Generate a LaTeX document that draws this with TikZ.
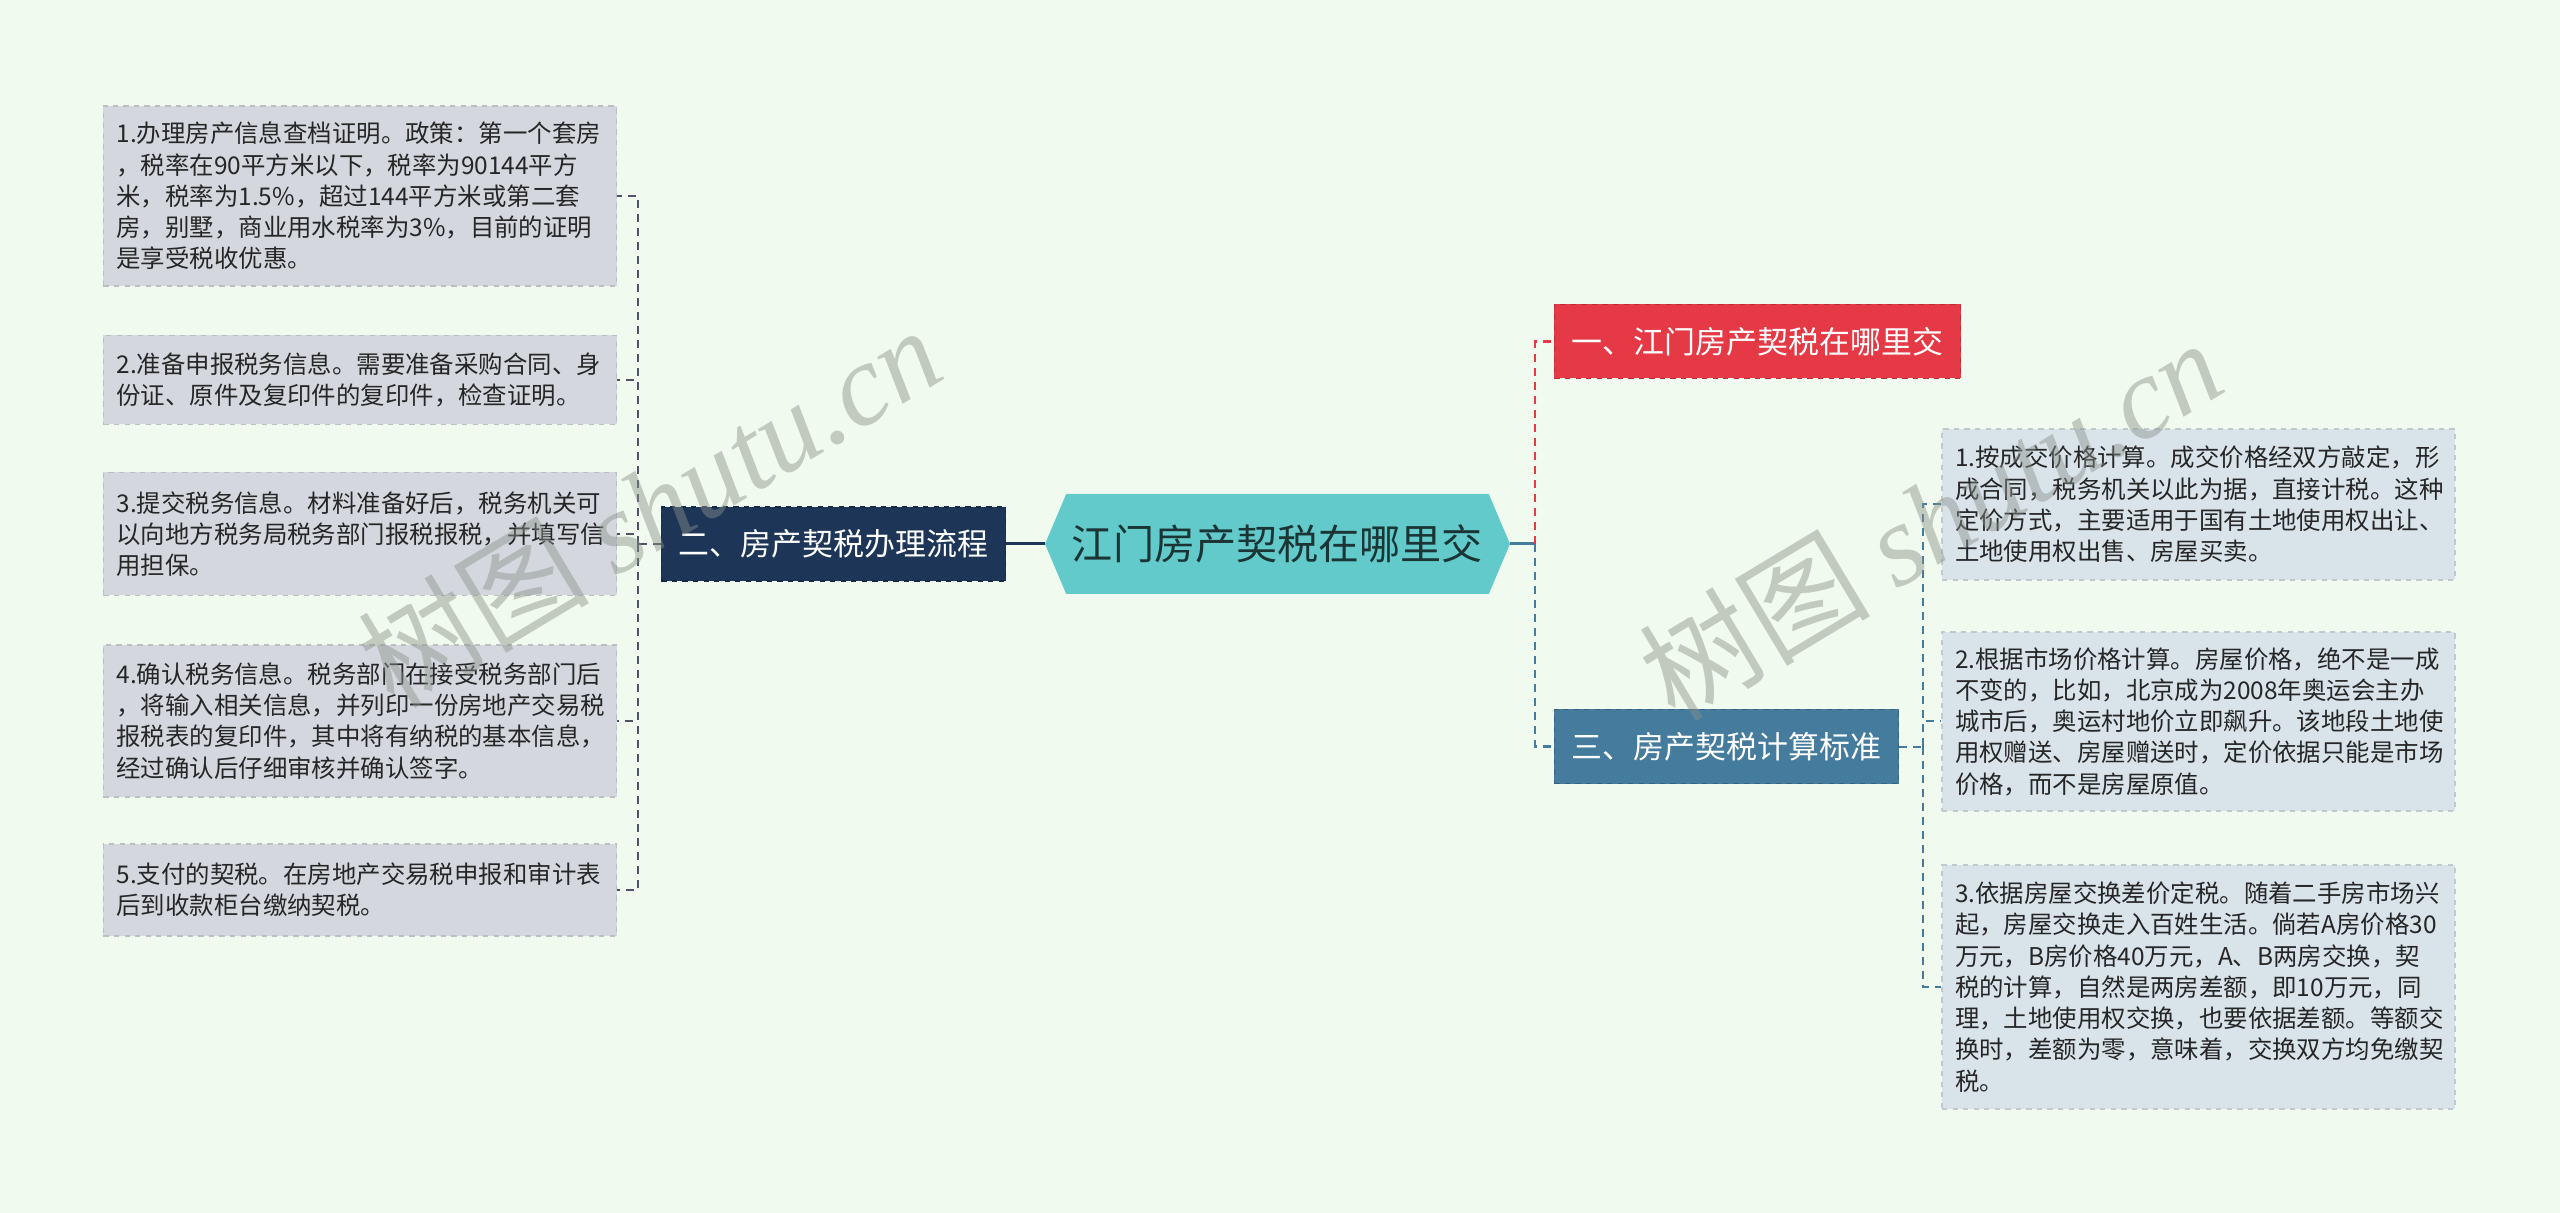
\documentclass[tikz,border=0pt]{standalone}
\usepackage{fontspec}
\setmainfont{Noto Sans CJK SC}
\newfontfamily\wmlatin{Liberation Serif}
\usetikzlibrary{shapes.symbols}

\definecolor{bgmint}{HTML}{F1FAEE}
\definecolor{hubteal}{HTML}{62CACB}
\definecolor{hubtext}{HTML}{1B3535}
\definecolor{navyb}{HTML}{1D3557}
\definecolor{redb}{HTML}{E63946}
\definecolor{steelb}{HTML}{457B9D}
\definecolor{leafgray}{HTML}{D4D8DE}
\definecolor{leafblue}{HTML}{D9E4EA}
\definecolor{linkgray}{HTML}{4A5566}
\definecolor{wmgray}{HTML}{8A908A}

\newcommand\leaffont{\fontsize{13.9pt}{17.8pt}\selectfont}
\newcommand\branchfont{\fontsize{17.6pt}{20pt}\selectfont}
\newcommand\hubfont{\fontsize{23.4pt}{26pt}\selectfont}

\tikzset{
  leaf/.style={rectangle, fill=#1, draw=#1!88!black, dashed, line width=0.25mm,
    text=black!85, font=\leaffont, text width=97.4mm, inner xsep=2.6mm,
    inner ysep=0pt, align=left},
  branch/.style={rectangle, fill=#1, draw=#1!80!black, dashed, line width=0.25mm,
    text=white, font=\branchfont, inner xsep=3.5mm, inner ysep=0pt,
    minimum height=14.8mm},
  hub/.style={signal, signal to=west and east, signal pointer angle=134,
    fill=hubteal, text=hubtext, font=\hubfont, minimum height=20mm,
    minimum width=93mm, inner xsep=0pt},
  link/.style={draw=#1, line width=0.4mm, dash pattern=on 1.6mm off 1.2mm},
  wm/.style={text=wmgray, opacity=0.45, rotate=31, font=\fontsize{66pt}{70pt}\selectfont}
}

\begin{document}
\begin{tikzpicture}[x=0.2mm, y=-0.2mm]
  \useasboundingbox (0,0) rectangle (2560,1213);
  \fill[bgmint] (0,0) rectangle (2560,1213);

  % centre and main branches
  \node[hub] (hub) at (1277.5,544) {江门房产契税在哪里交};
  \node[branch=navyb] (b2) at (833.5,544) {二、房产契税办理流程};
  \node[branch=redb] (b1) at (1757.5,341.5) {一、江门房产契税在哪里交};
  \node[branch=steelb] (b3) at (1726.5,746.5) {三、房产契税计算标准};

  % left leaves
  \node[leaf=leafgray, minimum height=36mm] (l1) at (360,196) {1.办理房产信息查档证明。政策：第一个套房\\，税率在90平方米以下，税率为90144平方\\米，税率为1.5\%，超过144平方米或第二套\\房，别墅，商业用水税率为3\%，目前的证明\\是享受税收优惠。};
  \node[leaf=leafgray, minimum height=17.8mm] (l2) at (360,380) {2.准备申报税务信息。需要准备采购合同、身\\份证、原件及复印件的复印件，检查证明。};
  \node[leaf=leafgray, minimum height=24.6mm] (l3) at (360,534) {3.提交税务信息。材料准备好后，税务机关可\\以向地方税务局税务部门报税报税，并填写信\\用担保。};
  \node[leaf=leafgray, minimum height=30.4mm] (l4) at (360,721) {4.确认税务信息。税务部门在接受税务部门后\\，将输入相关信息，并列印一份房地产交易税\\报税表的复印件，其中将有纳税的基本信息，\\经过确认后仔细审核并确认签字。};
  \node[leaf=leafgray, minimum height=18.4mm] (l5) at (360,890) {5.支付的契税。在房地产交易税申报和审计表\\后到收款柜台缴纳契税。};

  % right leaves
  \node[leaf=leafblue, minimum height=30.2mm] (r1) at (2198.5,504.5) {1.按成交价格计算。成交价格经双方敲定，形\\成合同，税务机关以此为据，直接计税。这种\\定价方式，主要适用于国有土地使用权出让、\\土地使用权出售、房屋买卖。};
  \node[leaf=leafblue, minimum height=35.8mm] (r2) at (2198.5,721.5) {2.根据市场价格计算。房屋价格，绝不是一成\\不变的，比如，北京成为2008年奥运会主办\\城市后，奥运村地价立即飙升。该地段土地使\\用权赠送、房屋赠送时，定价依据只能是市场\\价格，而不是房屋原值。};
  \node[leaf=leafblue, minimum height=48.8mm] (r3) at (2198.5,987) {3.依据房屋交换差价定税。随着二手房市场兴\\起，房屋交换走入百姓生活。倘若A房价格30\\万元，B房价格40万元，A、B两房交换，契\\税的计算，自然是两房差额，即10万元，同\\理，土地使用权交换，也要依据差额。等额交\\换时，差额为零，意味着，交换双方均免缴契\\税。};

  % connectors
  \coordinate (jl) at (638,544);
  \coordinate (jr) at (1535,544);
  \coordinate (jr3) at (1923,746.5);
  \draw[navyb, line width=0.6mm] (b2.east) -- (hub.west);
  \draw[steelb, line width=0.6mm] (hub.east) -- (jr);
  \draw[link=redb, line width=0.55mm] (jr) |- (b1.west);
  \draw[link=steelb, line width=0.55mm] (jr) |- (b3.west);
  \draw[link=linkgray] (b2.west) -- (jl);
  \foreach \n in {l1,l2,l3,l4,l5}
    \draw[link=linkgray] (jl) |- (\n.east);
  \draw[link=steelb] (b3.east) -- (jr3);
  \foreach \n in {r1,r2,r3}
    \draw[link=steelb] (jr3) |- (\n.west);

  % watermarks
  \node[wm] (wm1) at (649,506) {树图 {\wmlatin\itshape shutu.cn}};
  \node[wm] (wm2) at (1930,519) {树图 {\wmlatin\itshape shutu.cn}};
\end{tikzpicture}
\end{document}
